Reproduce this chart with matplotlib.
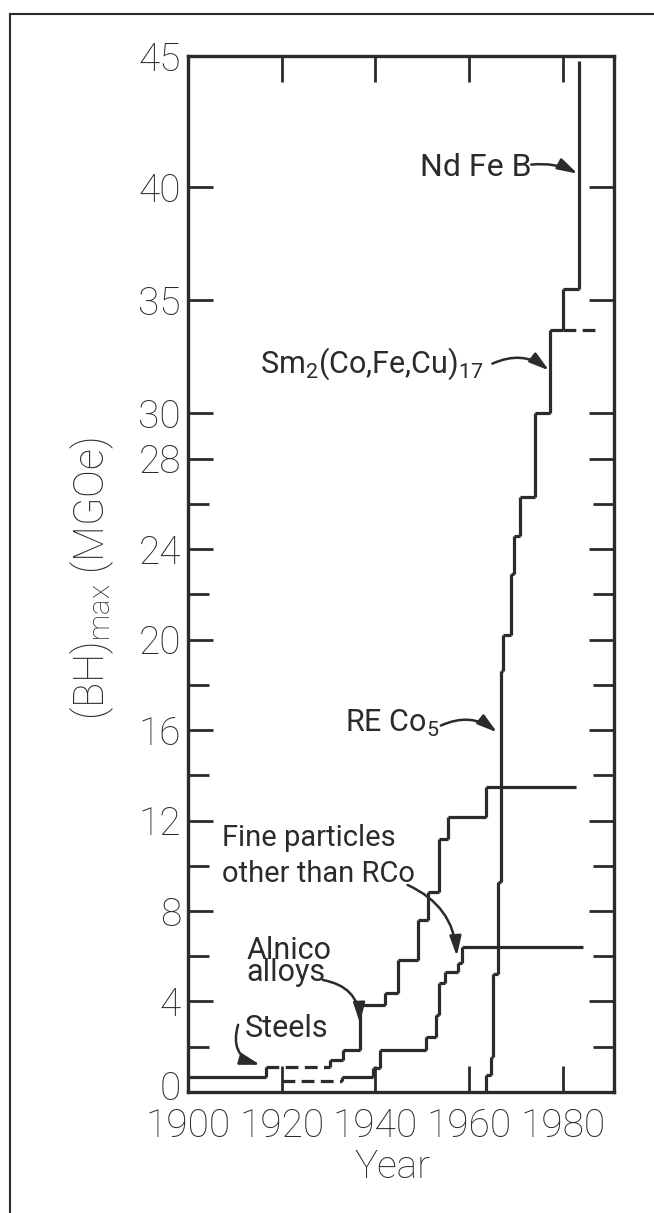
import matplotlib
matplotlib.use("Agg")
import matplotlib.pyplot as plt
import matplotlib.transforms as mtransforms
from matplotlib.lines import Line2D

# --- data (year, (BH)max in MGOe) ---
# upper track: steels, then alnico alloys
steel_alnico_years = [1900, 1916.6, 1930.3, 1933.1, 1936.7, 1942.0, 1944.8,
                      1949.1, 1951.2, 1953.6, 1955.5, 1963.7]
steel_alnico_vals = [0.65, 1.1, 1.4, 1.86, 3.85, 4.37, 5.84,
                     7.6, 8.86, 11.18, 12.14, 13.5]
steel_alnico_end = 1982.9

# lower track: fine particles other than RCo
fine_years = [1920, 1932.9, 1939.4, 1940.9, 1950.9, 1952.9, 1953.6,
              1954.8, 1957.6, 1958.5]
fine_vals = [0.5, 0.68, 1.06, 1.86, 2.45, 3.4, 4.8, 5.3, 5.7, 6.4]
fine_end = 1984.3

# rare earth track: RE Co5 -> Sm2(Co,Fe,Cu)17 -> Nd Fe B
re_years = [1963.7, 1964.7, 1965.2, 1966.2, 1966.9, 1967.2, 1969.0,
            1969.7, 1970.8, 1974.0, 1977.3, 1980.0, 1983.4]
re_vals = [0.75, 1.56, 5.2, 9.3, 18.6, 20.2, 22.9,
           24.6, 26.3, 30.0, 33.7, 35.5, 45.6]
sm_dash_years = [1980.0, 1987.8]
sm_dash_val = 33.7

ytick_major = [0, 4, 8, 12, 16, 20, 24, 28, 30, 35, 40, 45.8]
ytick_labels = ["0", "4", "8", "12", "16", "20", "24", "28", "30", "35", "40", "45"]
ytick_minor = [2, 6, 10, 14, 18, 22, 26]
xticks = [1900, 1920, 1940, 1960, 1980]

INK = "#2b2b2b"
LW = 2.3
TICK_FONT = ["Roboto", "DejaVu Sans"]
NOTE_FONT = ["Roboto", "DejaVu Sans"]


def draw_track(ax, years, vals, end, start=None, dashed=()):
    """Staircase: vals[i] holds from years[i] to the next year, risers at each year."""
    if start is not None:
        ax.vlines(years[0], start, vals[0], color=INK, lw=LW)
    for i in range(len(years)):
        if i > 0:
            ax.vlines(years[i], vals[i - 1], vals[i], color=INK, lw=LW)
        x_end = years[i + 1] if i + 1 < len(years) else end
        if x_end > years[i]:
            ls = (0, (4, 2)) if i in dashed else "-"
            ax.hlines(vals[i], years[i], x_end, color=INK, lw=LW, linestyles=[ls])


def note(ax, x, y, s, size=22, spacing=1.0):
    # y is the baseline of the last line
    ax.text(x, y, s, family=NOTE_FONT, fontsize=size, color=INK, va="baseline",
            ha="left", fontweight="normal", linespacing=spacing)


def arrow(ax, start, end, rad):
    ax.annotate("", xy=end, xytext=start,
                arrowprops=dict(arrowstyle="-|>,head_length=0.75,head_width=0.22",
                                connectionstyle=f"arc3,rad={rad}", color=INK,
                                lw=1.8, shrinkA=0, shrinkB=0, mutation_scale=16))


fig = plt.figure(figsize=(6.54, 12.13), dpi=100)
ax = fig.add_axes([0.2875, 0.0998, 0.6515, 0.854])

draw_track(ax, steel_alnico_years, steel_alnico_vals, steel_alnico_end, dashed=(1,))
draw_track(ax, fine_years, fine_vals, fine_end, dashed=(0,))
draw_track(ax, re_years, re_vals, re_years[-1], start=0)
ax.hlines(sm_dash_val, sm_dash_years[0], sm_dash_years[1], color=INK, lw=LW,
          linestyles=[(0, (4, 2))])

ax.set_xlim(1900, 1991)
ax.set_ylim(0, 45.8)

for sp in ax.spines.values():
    sp.set_linewidth(2.4)
    sp.set_color(INK)

ax.set_yticks(ytick_major)
ax.set_yticklabels(ytick_labels)
ax.set_yticks(ytick_minor, minor=True)
ax.set_xticks(xticks)
ax.tick_params(axis="both", which="both", direction="in", color=INK, width=2.0,
               labelsize=28, labelcolor=INK)
ax.tick_params(axis="y", which="major", length=18, right=True, pad=5)
ax.tick_params(axis="y", which="minor", length=15, right=True)
ax.tick_params(axis="x", which="major", length=19, top=True, pad=11)
for lab in ax.get_xticklabels() + ax.get_yticklabels():
    lab.set_family(TICK_FONT)
    lab.set_fontweight("light")

# lift the "0" label a little so it clears the year labels, as in the original
zero_lab = ax.get_yticklabels()[0]
zero_lab.set_transform(zero_lab.get_transform() +
                       mtransforms.ScaledTranslation(0, 5 / 72, fig.dpi_scale_trans))

ax.set_xlabel("Year", family=TICK_FONT, fontsize=28, color=INK, fontweight="light")
ax.set_ylabel(r"(BH)$_\mathregular{max}$ (MGOe)", family=TICK_FONT, fontsize=30,
              color=INK, fontweight="light")
ax.yaxis.set_label_coords(-0.168, 0.496)
ax.xaxis.set_label_coords(0.48, -0.055)

# annotations
note(ax, 1949.5, 40.5, "Nd Fe B", size=23)
arrow(ax, (1973.3, 41.0), (1983.2, 40.6), -0.15)

note(ax, 1915.4, 31.8, r"Sm$_\mathregular{2}$(Co,Fe,Cu)$_\mathregular{17}$", size=22)
arrow(ax, (1965.0, 32.2), (1977.1, 31.9), -0.3)

note(ax, 1933.5, 15.9, r"RE Co$_\mathregular{5}$", size=22)
arrow(ax, (1954.0, 16.2), (1966.0, 15.9), -0.3)

note(ax, 1907.2, 9.3, "Fine particles\nother than RCo", size=21, spacing=1.35)
arrow(ax, (1946.9, 9.15), (1957.4, 6.0), -0.3)

note(ax, 1912.5, 4.9, "Alnico\nalloys", size=22, spacing=0.72)
arrow(ax, (1928.8, 4.95), (1936.7, 3.05), -0.4)

note(ax, 1912.2, 2.45, "Steels", size=22)
arrow(ax, (1910.7, 2.97), (1915.4, 1.2), 0.5)

# scanned page frame
fig.add_artist(Line2D([0.015, 1.0], [0.9885, 0.9885], transform=fig.transFigure,
                      color=INK, lw=1.5))
fig.add_artist(Line2D([0.015, 0.015], [0.0, 0.9885], transform=fig.transFigure,
                      color=INK, lw=1.5))

fig.savefig("out.png", dpi=100)
